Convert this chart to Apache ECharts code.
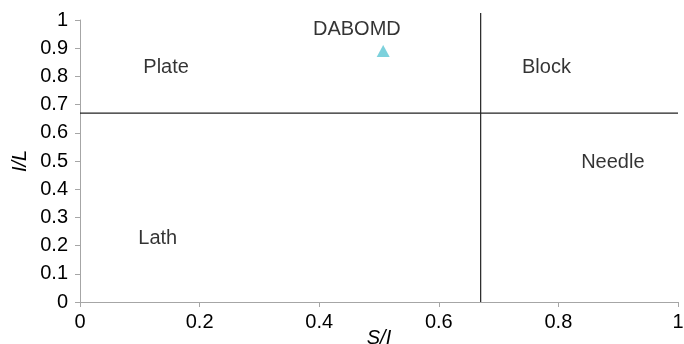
<!DOCTYPE html>
<html><head><meta charset="utf-8">
<script src="https://cdn.jsdelivr.net/npm/echarts@6/dist/echarts.min.js"></script>
<style>html,body{margin:0;padding:0;background:#fff}#c{width:684px;height:344px}</style>
</head><body><div id="c"></div>
<script>
const xTicks = [0, 0.2, 0.4, 0.6, 0.8, 1];
const yTicks = [0, 0.1, 0.2, 0.3, 0.4, 0.5, 0.6, 0.7, 0.8, 0.9, 1];
const pointName = "DABOMD";
const pointSI = [0.507];
const pointIL = [0.890];
const regionNames = ["Plate", "Block", "Needle", "Lath", "DABOMD"];
const regionX = [0.144, 0.780, 0.891, 0.130, 0.463];
const regionY = [0.833, 0.833, 0.493, 0.227, 0.966];
const boundSI = 0.67;
const boundIL = 0.67;

const chart = echarts.init(document.getElementById('c'));
const font = 'Liberation Sans, Arial, sans-serif';
chart.setOption({
  animation: false,
  grid: {left: 80, right: 6, top: 20, bottom: 42, outerBoundsMode: 'none', containLabel: false},
  xAxis: {
    type: 'value', min: 0, max: 1, interval: 0.2,
    name: 'S/I', nameLocation: 'middle', nameGap: 26, nameMoveOverlap: false,
    nameTextStyle: {fontStyle: 'italic', fontSize: 20, color: '#000', fontFamily: font},
    axisLine: {show: true, lineStyle: {color: '#a6a6a6'}},
    axisTick: {show: true, length: 5, lineStyle: {color: '#a6a6a6'}},
    axisLabel: {fontSize: 20, color: '#000', fontFamily: font, margin: 10,
      formatter: v => { const r = Math.round(v*10)/10; return xTicks.includes(r) ? String(r) : ''; }},
    splitLine: {show: false}
  },
  yAxis: {
    type: 'value', min: 0, max: 1, interval: 0.1,
    name: 'I/L', nameLocation: 'middle', nameGap: 50, nameRotate: 90, nameMoveOverlap: false,
    nameTextStyle: {fontStyle: 'italic', fontSize: 20, color: '#000', fontFamily: font},
    axisLine: {show: true, lineStyle: {color: '#a6a6a6'}},
    axisTick: {show: true, length: 5, lineStyle: {color: '#a6a6a6'}},
    axisLabel: {fontSize: 20, color: '#000', fontFamily: font, margin: 12,
      formatter: v => { const r = Math.round(v*10)/10; return yTicks.includes(r) ? String(r) : ''; }},
    splitLine: {show: false}
  },
  series: [
    {
      type: 'line', data: [[boundSI, 0], [boundSI, 1.025]], symbol: 'none', clip: false,
      lineStyle: {color: '#222', width: 1.2}, silent: true
    },
    {
      type: 'line', data: [[0, boundIL], [1, boundIL]], symbol: 'none', clip: false,
      lineStyle: {color: '#222', width: 1.2}, silent: true
    },
    {
      type: 'scatter', name: pointName, symbol: 'triangle', symbolSize: [13, 12],
      itemStyle: {color: '#5bc5d3'},
      data: pointSI.map((x, i) => [x, pointIL[i]])
    },
    {
      type: 'scatter', symbolSize: 0, clip: false, silent: true,
      data: regionNames.map((n, i) => ({value: [regionX[i], regionY[i]], name: n})),
      label: {show: true, position: 'inside', formatter: p => p.name,
        fontSize: 20, color: '#000', fontFamily: font, textBorderWidth: 0}
    }
  ]
});
</script></body></html>
